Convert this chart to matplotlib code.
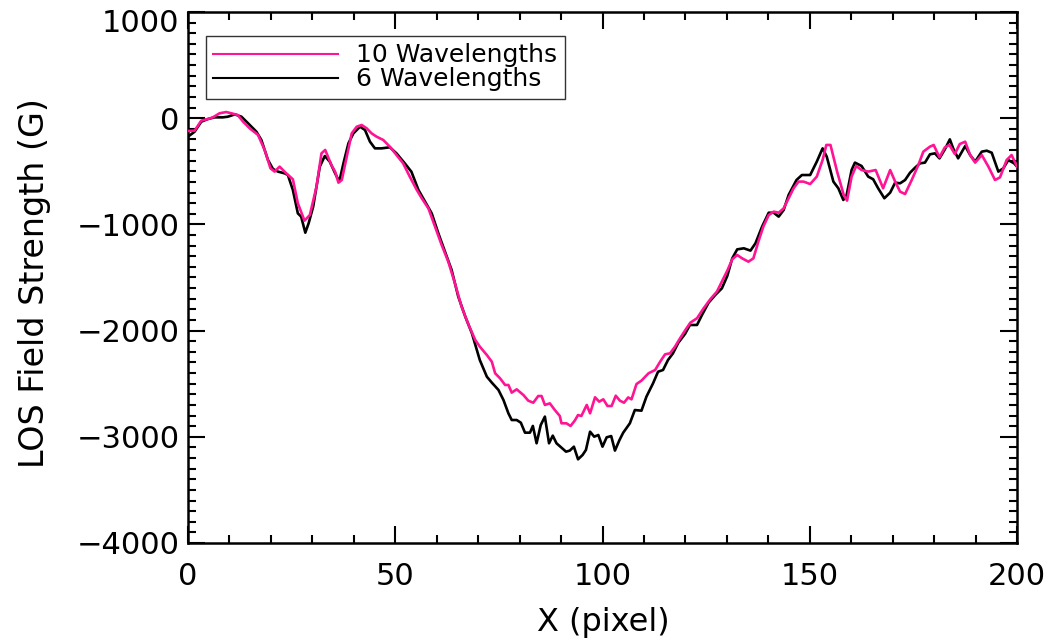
import matplotlib
matplotlib.use("Agg")
import matplotlib.pyplot as plt
from matplotlib.ticker import MultipleLocator
from matplotlib.lines import Line2D
from matplotlib.transforms import ScaledTranslation

# ---- data ----
x_10 = [0, 1.6, 3.2, 4.8, 6, 7.6, 9.2, 10.5, 12, 13.3, 14.9, 16.9, 18.5, 19.9, 20.9,
        22.1, 23.7, 25.3, 26.5, 28.1, 29.4, 31, 32.2, 33.1, 34.6, 35.5, 36.3, 37.1,
        38.3, 39.5, 40.7, 41.9, 43.1, 44.3, 45.5, 47.1, 48.7, 50.3, 51.9, 53.5, 55.2,
        56.4, 58, 59.6, 61.2, 62.8, 64.4, 66, 67.7, 69.3, 70.4, 72.1, 73.3, 74.1,
        75.3, 76.5, 77.3, 78.1, 79.3, 80.9, 82.1, 83.3, 84.5, 85.3, 86.1, 87.3, 88.5,
        89.7, 90.1, 91.3, 92.3, 93.3, 94.1, 94.9, 96.2, 97, 98.2, 99.2, 100.2, 101.2,
        102.2, 103.2, 104.2, 105.2, 106.2, 107, 108.2, 109.4, 111.1, 112.7, 113.9,
        115.1, 116.3, 117.5, 118.7, 120, 121.2, 122.8, 124.4, 126, 127.6, 128.8,
        130.1, 131.3, 132.5, 133.7, 135.2, 136.4, 137.6, 138.8, 140.1, 141.3, 142.5,
        143.7, 144.9, 146.1, 147.3, 148.5, 150.1, 151.7, 153.1, 154, 155, 156.6,
        158.2, 159, 160.1, 161.2, 162.5, 164.1, 165.9, 167.7, 169.4, 170.6, 171.8,
        173, 174.6, 176.2, 177.4, 179, 179.9, 181.3, 182.6, 183.7, 185, 186.2, 187.5,
        188.7, 189.9, 191.5, 193.1, 194.7, 195.9, 197.5, 198.7, 200]
b_10 = [-120, -117, -23, -8, 8, 46, 58, 46, 30, -33, -96, -158, -300, -472, -503,
        -456, -519, -575, -801, -965, -911, -645, -331, -299, -441, -504, -607, -582,
        -362, -143, -80, -64, -95, -143, -174, -205, -268, -346, -425, -550, -676,
        -754, -849, -1021, -1194, -1351, -1555, -1775, -1947, -2088, -2151, -2230,
        -2293, -2402, -2450, -2512, -2512, -2584, -2553, -2606, -2660, -2679, -2616,
        -2616, -2700, -2685, -2748, -2804, -2873, -2873, -2898, -2848, -2795, -2804,
        -2700, -2779, -2628, -2669, -2647, -2710, -2710, -2613, -2660, -2679, -2629,
        -2647, -2503, -2471, -2402, -2371, -2293, -2223, -2214, -2151, -2073, -1994,
        -1925, -1884, -1790, -1705, -1633, -1539, -1436, -1329, -1288, -1320, -1351,
        -1320, -1163, -1021, -912, -880, -890, -849, -755, -660, -597, -597, -620,
        -550, -394, -252, -252, -503, -723, -776, -550, -450, -488, -503, -488, -660,
        -488, -597, -692, -714, -582, -441, -315, -268, -252, -368, -274, -252, -337,
        -243, -221, -347, -418, -347, -456, -582, -557, -394, -347, -456]

x_6 = [0, 1.6, 3.2, 4.8, 6.4, 8.4, 9.6, 11.3, 12.9, 14.5, 16.5, 17.7, 19.3, 20.5,
       21.7, 23.3, 24.1, 25.3, 26.5, 27.3, 28.3, 29.1, 30.2, 31.8, 33, 34.2, 35.5,
       36.5, 37.5, 38.7, 39.9, 41.5, 42.7, 43.9, 45.1, 46.7, 48.7, 50.3, 52.3, 53.9,
       55.6, 57.2, 58.8, 60.4, 62, 63.6, 65.2, 66.9, 68.5, 70.4, 72.1, 73.3, 74.9,
       76.1, 77.3, 78.1, 79.3, 80.3, 81.3, 82.5, 83.2, 84.1, 85.1, 86.1, 87.1, 88,
       88.9, 90.1, 91.2, 92.1, 93.1, 94.1, 95.2, 96, 97, 98, 99, 100, 101, 102.1,
       103, 104.1, 105, 106.6, 107.8, 109.4, 110.6, 112.2, 113.4, 114.6, 115.8, 117,
       118.3, 119.9, 121.1, 122.8, 124, 125.6, 127.2, 128.8, 130.1, 131.3, 132.5,
       134.1, 135.7, 136.9, 138.5, 140.1, 141.3, 142.5, 143.7, 144.9, 146.8, 148.1,
       150.1, 151.7, 153.1, 154.1, 155.7, 156.9, 158.1, 158.9, 160.1, 160.9, 162.5,
       164.1, 165.3, 166.5, 168, 169.4, 170.6, 171.8, 173, 174.2, 175.4, 176.6,
       177.8, 179, 180.2, 181.3, 182.6, 183.8, 184.6, 185.8, 187.5, 188.7, 189.9,
       191.5, 192.7, 193.9, 195.5, 196.7, 197.9, 199.3, 200]
b_6 = [-174, -127, -33, -8, 8, 8, 14, 36, 14, -48, -127, -205, -394, -478, -503,
       -519, -535, -676, -896, -927, -1078, -990, -833, -456, -356, -409, -519, -597,
       -425, -237, -143, -80, -111, -221, -284, -284, -274, -331, -425, -504, -676,
       -786, -896, -1084, -1257, -1429, -1680, -1869, -2026, -2277, -2434, -2490,
       -2559, -2653, -2779, -2842, -2842, -2867, -2961, -2961, -2898, -3061, -2889,
       -2810, -3061, -2989, -3061, -3102, -3140, -3130, -3093, -3212, -3171, -3124,
       -2952, -2999, -2983, -3093, -3005, -2993, -3130, -3030, -2961, -2873, -2748,
       -2754, -2622, -2496, -2387, -2371, -2277, -2214, -2114, -2032, -1947, -1947,
       -1853, -1737, -1665, -1602, -1486, -1320, -1235, -1225, -1247, -1178, -1021,
       -890, -890, -927, -865, -723, -582, -535, -535, -409, -284, -362, -597, -660,
       -770, -723, -488, -418, -450, -550, -575, -660, -754, -701, -607, -613, -582,
       -513, -466, -425, -418, -340, -331, -378, -293, -199, -284, -378, -262, -347,
       -409, -315, -306, -325, -503, -472, -394, -425, -456]

labels = ["10 Wavelengths", "6 Wavelengths"]
colors = ["#ff1493", "#000000"]

plt.rcParams['font.family'] = ['DejaVu Sans']

W, H = 1049, 641
fig = plt.figure(figsize=(W / 100, H / 100), dpi=100)
ax = fig.add_axes([188 / W, 1 - 543 / H, (1017 - 188) / W, (543 - 12) / H])

ax.plot(x_6, b_6, color=colors[1], lw=1.9, zorder=2)
ax.plot(x_10, b_10, color=colors[0], lw=1.9, zorder=3)

ax.set_xlim(0, 200)
ax.set_ylim(-4000, 1000)
ax.xaxis.set_major_locator(MultipleLocator(50))
ax.xaxis.set_minor_locator(MultipleLocator(10))
ax.yaxis.set_major_locator(MultipleLocator(1000))
ax.yaxis.set_minor_locator(MultipleLocator(100))

for s in ax.spines.values():
    s.set_linewidth(1.8)

ax.tick_params(which='both', direction='in', top=True, right=True, width=1.5)
ax.tick_params(which='major', length=12)
ax.tick_params(which='minor', length=6)
ax.tick_params(axis='x', which='major', pad=14, labelsize=22)
ax.tick_params(axis='y', which='major', pad=6, labelsize=22)

# IDL-style: top y label sits slightly below its tick
fig.canvas.draw()
for t in ax.yaxis.get_major_ticks():
    if abs(t.get_loc() - 1000) < 1:
        t.label1.set_transform(t.label1.get_transform()
                               + ScaledTranslation(0, -6 / 72, fig.dpi_scale_trans))

fig.text(603 / W, 1 - 622 / H, "X (pixel)", ha='center', va='center', fontsize=23)
fig.text(35 / W, 1 - 283 / H, "LOS Field Strength (G)", ha='center', va='center',
         rotation=90, fontsize=24)

handles = [Line2D([], [], color=colors[0], lw=1.5), Line2D([], [], color=colors[1], lw=1.5)]
leg = ax.legend(handles, labels, loc='upper left', bbox_to_anchor=(0.0217, 0.955),
                fontsize=18, frameon=True, fancybox=False, handlelength=5.0,
                handletextpad=0.7, labelspacing=0.0, borderpad=0.3, borderaxespad=0)
leg.get_frame().set_edgecolor('black')
leg.get_frame().set_linewidth(1.0)

fig.savefig("out.png", dpi=100)
